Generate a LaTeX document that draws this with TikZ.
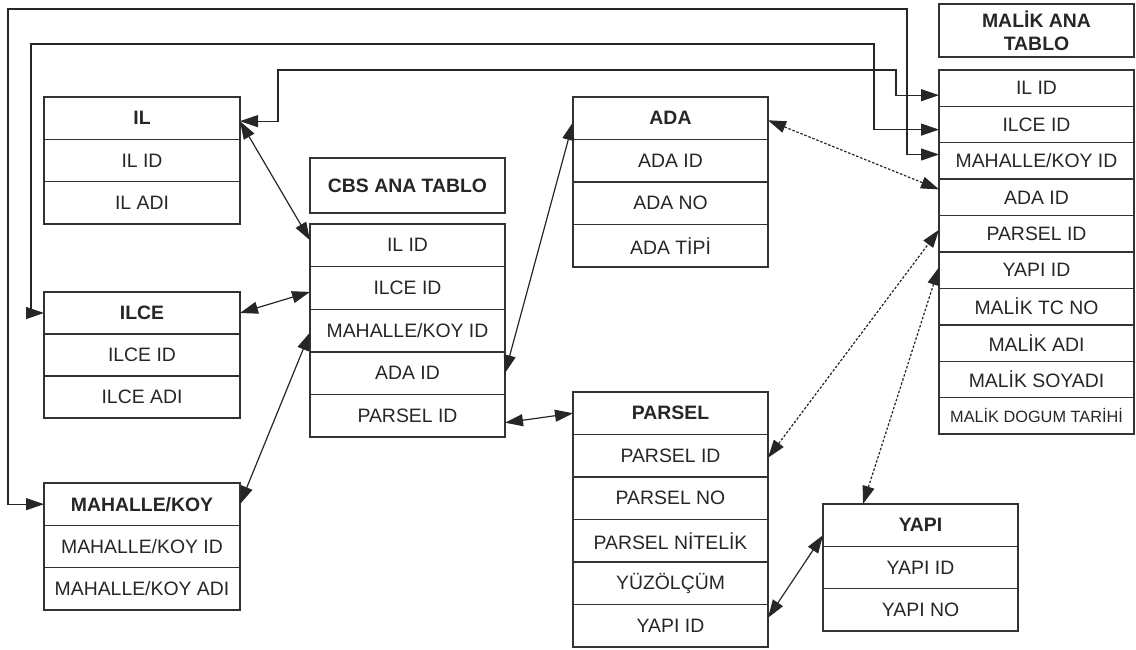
\documentclass[tikz,border=0pt]{standalone}
\usepackage{fontspec}
\setmainfont{Liberation Sans}
\usetikzlibrary{arrows.meta}

\tikzset{
  cell/.style={draw=black!80, line width=1.4pt, anchor=north west,
    inner sep=0pt, outer sep=0pt, text=black!85,
    font=\fontsize{19.4}{23}\selectfont},
  titlebox/.style={cell, align=center, font=\fontsize{19.4}{23}\selectfont\bfseries},
  conn/.style={line width=1.2pt, draw=black!85,
    {Triangle[length=18pt,width=12pt]}-{Triangle[length=18pt,width=12pt]}},
  dotconn/.style={conn, dash pattern=on 2.5pt off 1.8pt},
}

% #1 name, #2 x, #3 y (top), #4 width, #5 row height, #6 rows
\newcommand\dbtable[6]{%
  \foreach \t [count=\i from 0] in {#6}{%
    \node[cell, minimum width=#4pt, minimum height=#5pt]
      (#1-\i) at (#2,{#3+\i*#5}) {\t};
  }%
}

\begin{document}
\begin{tikzpicture}[x=1pt,y=-1pt]
\useasboundingbox (0,0) rectangle (1136,650);

% tables
\dbtable{il}{44}{97}{196}{42.33}{\textbf{IL}, IL ID, IL ADI}
\dbtable{ilce}{44}{292}{196}{42}{\textbf{ILCE}, ILCE ID, ILCE ADI}
\dbtable{mah}{44}{483}{196}{42.33}{\textbf{MAHALLE/KOY}, MAHALLE/KOY ID, MAHALLE/KOY ADI}

\node[titlebox, minimum width=195pt, minimum height=55pt] (cbst) at (310,158) {CBS ANA TABLO};
\dbtable{cbs}{310}{224}{195}{42.6}{IL ID, ILCE ID, MAHALLE/KOY ID, ADA ID, PARSEL ID}

\dbtable{ada}{573}{97}{195}{42.5}{\textbf{ADA}, ADA ID, ADA NO, ADA TİPİ}
\dbtable{parsel}{573}{392}{195}{42.5}{\textbf{PARSEL}, PARSEL ID, PARSEL NO, PARSEL NİTELİK, YÜZÖLÇÜM, YAPI ID}
\dbtable{yapi}{823}{504}{195}{42.33}{\textbf{YAPI}, YAPI ID, YAPI NO}

\node[titlebox, minimum width=195pt, minimum height=53pt] (malikt) at (939,4) {MALİK ANA\\TABLO};
\dbtable{malik}{939}{70}{195}{36.4}{IL ID, ILCE ID, MAHALLE/KOY ID, ADA ID, PARSEL ID, YAPI ID,
  MALİK TC NO, MALİK ADI, MALİK SOYADI, {\fontsize{16.3}{18}\selectfont MALİK DOGUM TARİHİ}}

% connectors between the main table and the lookup tables
\draw[conn] ([yshift=-3pt]il-0.east) -- ([yshift=5pt]cbs-0.west);
\draw[conn] (ilce-0.east) -- ([yshift=-4pt]cbs-1.west);
\draw[conn] (mah-0.east) -- ([yshift=-2pt]cbs-2.west);
\draw[conn] (cbs-3.east) -- ([yshift=-4pt]ada-0.west);
\draw[conn] ([yshift=-7pt]cbs-4.east) -- (parsel-0.west);
\draw[conn] ([yshift=8pt]parsel-5.east) -- ([yshift=-10pt]yapi-0.west);

% dotted links to the owner table
\draw[dotconn] ([yshift=-2pt]ada-0.east) -- ([yshift=8pt]malik-3.west);
\draw[dotconn] ([yshift=-2pt]parsel-1.east) -- ([yshift=4pt]malik-4.west);
\draw[dotconn] ([xshift=40pt]yapi-0.north west) -- ([yshift=3pt]malik-5.west);

% routed links along the top
\draw[conn] (mah-0.west) -| (8,9) -- (907,9) |- ([yshift=6.5pt]malik-2.west);
\draw[conn] (ilce-0.west) -| (31,44) -- (874,44) |- ([yshift=-5pt]malik-1.west);
\draw[conn] ([yshift=-3pt]il-0.east) -| (278,70) -- (896,70) |- ([yshift=-7pt]malik-0.west);
\end{tikzpicture}
\end{document}
